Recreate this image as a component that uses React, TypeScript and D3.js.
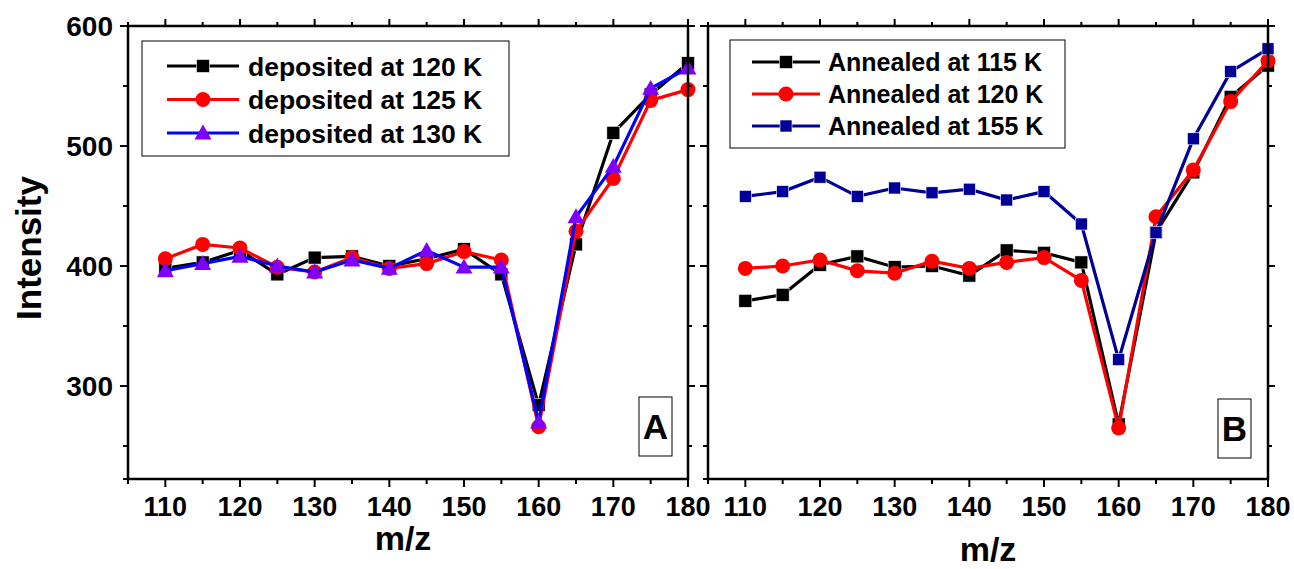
import React from 'react';
import * as d3 from 'd3';

// m/z values shared by every series
const mz = [110, 115, 120, 125, 130, 135, 140, 145, 150, 155, 160, 165, 170, 175, 180];

// panel A: deposited
const dep120 = [398, 403, 413, 393, 407, 408, 400, 406, 414, 393, 284, 418, 511, 543, 569];
const dep125 = [406, 418, 415, 399, 395, 407, 398, 402, 412, 405, 266, 429, 473, 538, 547];
const dep130 = [396, 402, 408, 400, 395, 405, 398, 413, 399, 399, 270, 441, 483, 548, 565];

// panel B: annealed
const ann115 = [371, 376, 401, 408, 399, 400, 392, 413, 411, 403, 268, 428, 478, 541, 567];
const ann120 = [398, 400, 405, 396, 394, 404, 398, 403, 407, 388, 265, 441, 480, 537, 571];
const ann155 = [458, 462, 474, 458, 465, 461, 464, 455, 462, 435, 322, 428, 506, 562, 581];

const xTicks = [110, 120, 130, 140, 150, 160, 170, 180];
const xMinor = [105, 115, 125, 135, 145, 155, 165, 175];
const yTicks = [300, 400, 500, 600];
const yMinor = [250, 350, 450, 550];

const FONT = '"Liberation Sans", Arial, Helvetica, sans-serif';

type Series = { label: string; values: number[]; line: string; fill: string; shape: 'square' | 'circle' | 'triangle'; size: number };

const seriesA: Series[] = [
  { label: 'deposited at 120 K', values: dep120, line: '#000', fill: '#000', shape: 'square', size: 6.5 },
  { label: 'deposited at 125 K', values: dep125, line: '#ff0000', fill: '#ff0000', shape: 'circle', size: 7.5 },
  { label: 'deposited at 130 K', values: dep130, line: '#0000ff', fill: '#8000ff', shape: 'triangle', size: 8.5 },
];
const seriesB: Series[] = [
  { label: 'Annealed at 115 K', values: ann115, line: '#000', fill: '#000', shape: 'square', size: 6.5 },
  { label: 'Annealed at 120 K', values: ann120, line: '#ff0000', fill: '#ff0000', shape: 'circle', size: 7.5 },
  { label: 'Annealed at 155 K', values: ann155, line: '#000099', fill: '#000099', shape: 'square', size: 6 },
];

const Marker = ({ x, y, s }: { x: number; y: number; s: Series }) => {
  const h = s.size;
  if (s.shape === 'square') {
    return <rect x={x - h} y={y - h} width={h * 2} height={h * 2} fill={s.fill} stroke="#fff" strokeWidth={0.6} />;
  }
  if (s.shape === 'circle') return <circle cx={x} cy={y} r={h} fill={s.fill} />;
  return <path d={`M${x},${y - h}L${x + h},${y + h * 0.75}L${x - h},${y + h * 0.75}Z`} fill={s.fill} />;
};

const Panel = ({ left, right, series, tag, showYLabels, legend, xLabelY, xLabelX }: any) => {
  const top = 26, bottom = 479;
  const x = d3.scaleLinear().domain([105, 180]).range([left, right]);
  const y = d3.scaleLinear().domain([600, 300]).range([top, 386]);
  const line = d3.line<number>().x((_, i) => x(mz[i])).y(d => y(d));
  const bottomVal = y.invert(bottom);
  return (
    <g>
      {series.map((s: Series, k: number) => (
        <g key={k}>
          <path d={line(s.values) || ''} fill="none" stroke={s.line} strokeWidth={3.2} />
          {s.values.map((v, i) => <Marker key={i} x={x(mz[i])} y={y(v)} s={s} />)}
        </g>
      ))}
      {/* frame */}
      <rect x={left} y={top} width={right - left} height={bottom - top} fill="none" stroke="#000" strokeWidth={2.5} />
      {/* x ticks, bottom and top */}
      {xTicks.map(t => (
        <g key={t}>
          <line x1={x(t)} x2={x(t)} y1={bottom} y2={bottom + 8} stroke="#000" strokeWidth={2} />
          <line x1={x(t)} x2={x(t)} y1={top} y2={top - 7} stroke="#000" strokeWidth={2} />
          <text x={x(t)} y={516} textAnchor="middle" fontSize={27} fontWeight="bold" fontFamily={FONT}>{t}</text>
        </g>
      ))}
      {xMinor.map(t => (
        <g key={t}>
          <line x1={x(t)} x2={x(t)} y1={bottom} y2={bottom + 5} stroke="#000" strokeWidth={2} />
          <line x1={x(t)} x2={x(t)} y1={top} y2={top - 4} stroke="#000" strokeWidth={2} />
        </g>
      ))}
      {/* y ticks, left and right */}
      {yTicks.map(t => (
        <g key={t}>
          <line x1={left} x2={left - 8} y1={y(t)} y2={y(t)} stroke="#000" strokeWidth={2} />
          <line x1={right} x2={right + 7} y1={y(t)} y2={y(t)} stroke="#000" strokeWidth={2} />
          {showYLabels && (
            <text x={left - 15} y={y(t) + 10} textAnchor="end" fontSize={28} fontWeight="bold" fontFamily={FONT}>{t}</text>
          )}
        </g>
      ))}
      {yMinor.filter(t => t > bottomVal).map(t => (
        <g key={t}>
          <line x1={left} x2={left - 5} y1={y(t)} y2={y(t)} stroke="#000" strokeWidth={2} />
          <line x1={right} x2={right + 4} y1={y(t)} y2={y(t)} stroke="#000" strokeWidth={2} />
        </g>
      ))}
      <line x1={left} x2={left - 5} y1={bottom} y2={bottom} stroke="#000" strokeWidth={2} />
      <text x={xLabelX} y={xLabelY} textAnchor="middle" fontSize={34} fontWeight="bold" fontFamily={FONT}>m/z</text>
      {/* legend */}
      <rect x={legend.x} y={legend.y} width={legend.w} height={legend.h} fill="#fff" stroke="#000" strokeWidth={1} />
      {series.map((s: Series, k: number) => {
        const cy = legend.y0 + k * legend.dy;
        const mx = (legend.l1 + legend.l2) / 2;
        return (
          <g key={k}>
            <line x1={legend.l1} x2={legend.l2} y1={cy} y2={cy} stroke={s.line} strokeWidth={3} />
            <Marker x={mx} y={cy} s={s} />
            <text x={legend.tx} y={cy + legend.fs * 0.36} fontSize={legend.fs} fontWeight="bold" fontFamily={FONT}>{s.label}</text>
          </g>
        );
      })}
      {/* panel tag */}
      <rect x={tag.x} y={tag.y} width={33} height={59} fill="#fff" stroke="#000" strokeWidth={1} />
      <text x={tag.x + 16.5} y={tag.y + 42} textAnchor="middle" fontSize={35} fontWeight="bold" fontFamily={FONT}>{tag.t}</text>
    </g>
  );
};

export default function App() {
  return (
    <svg width={1294} height={569} style={{ position: 'absolute', left: 0, top: 0, background: '#fff' }}>
      <Panel
        left={128} right={688} series={seriesA} showYLabels
        tag={{ x: 639, y: 397, t: 'A' }}
        legend={{ x: 142, y: 41, w: 367, h: 115, y0: 66, dy: 33.5, l1: 167, l2: 239, tx: 248, fs: 26.5 }}
        xLabelX={403} xLabelY={550}
      />
      <Panel
        left={708} right={1268} series={seriesB} showYLabels={false}
        tag={{ x: 1218, y: 399, t: 'B' }}
        legend={{ x: 730, y: 40, w: 335, h: 108, y0: 62, dy: 32, l1: 752, l2: 820, tx: 828, fs: 25 }}
        xLabelX={988} xLabelY={561}
      />
      <text transform="translate(41,248) rotate(-90)" textAnchor="middle" fontSize={35} fontWeight="bold" fontFamily={FONT}>Intensity</text>
    </svg>
  );
}
